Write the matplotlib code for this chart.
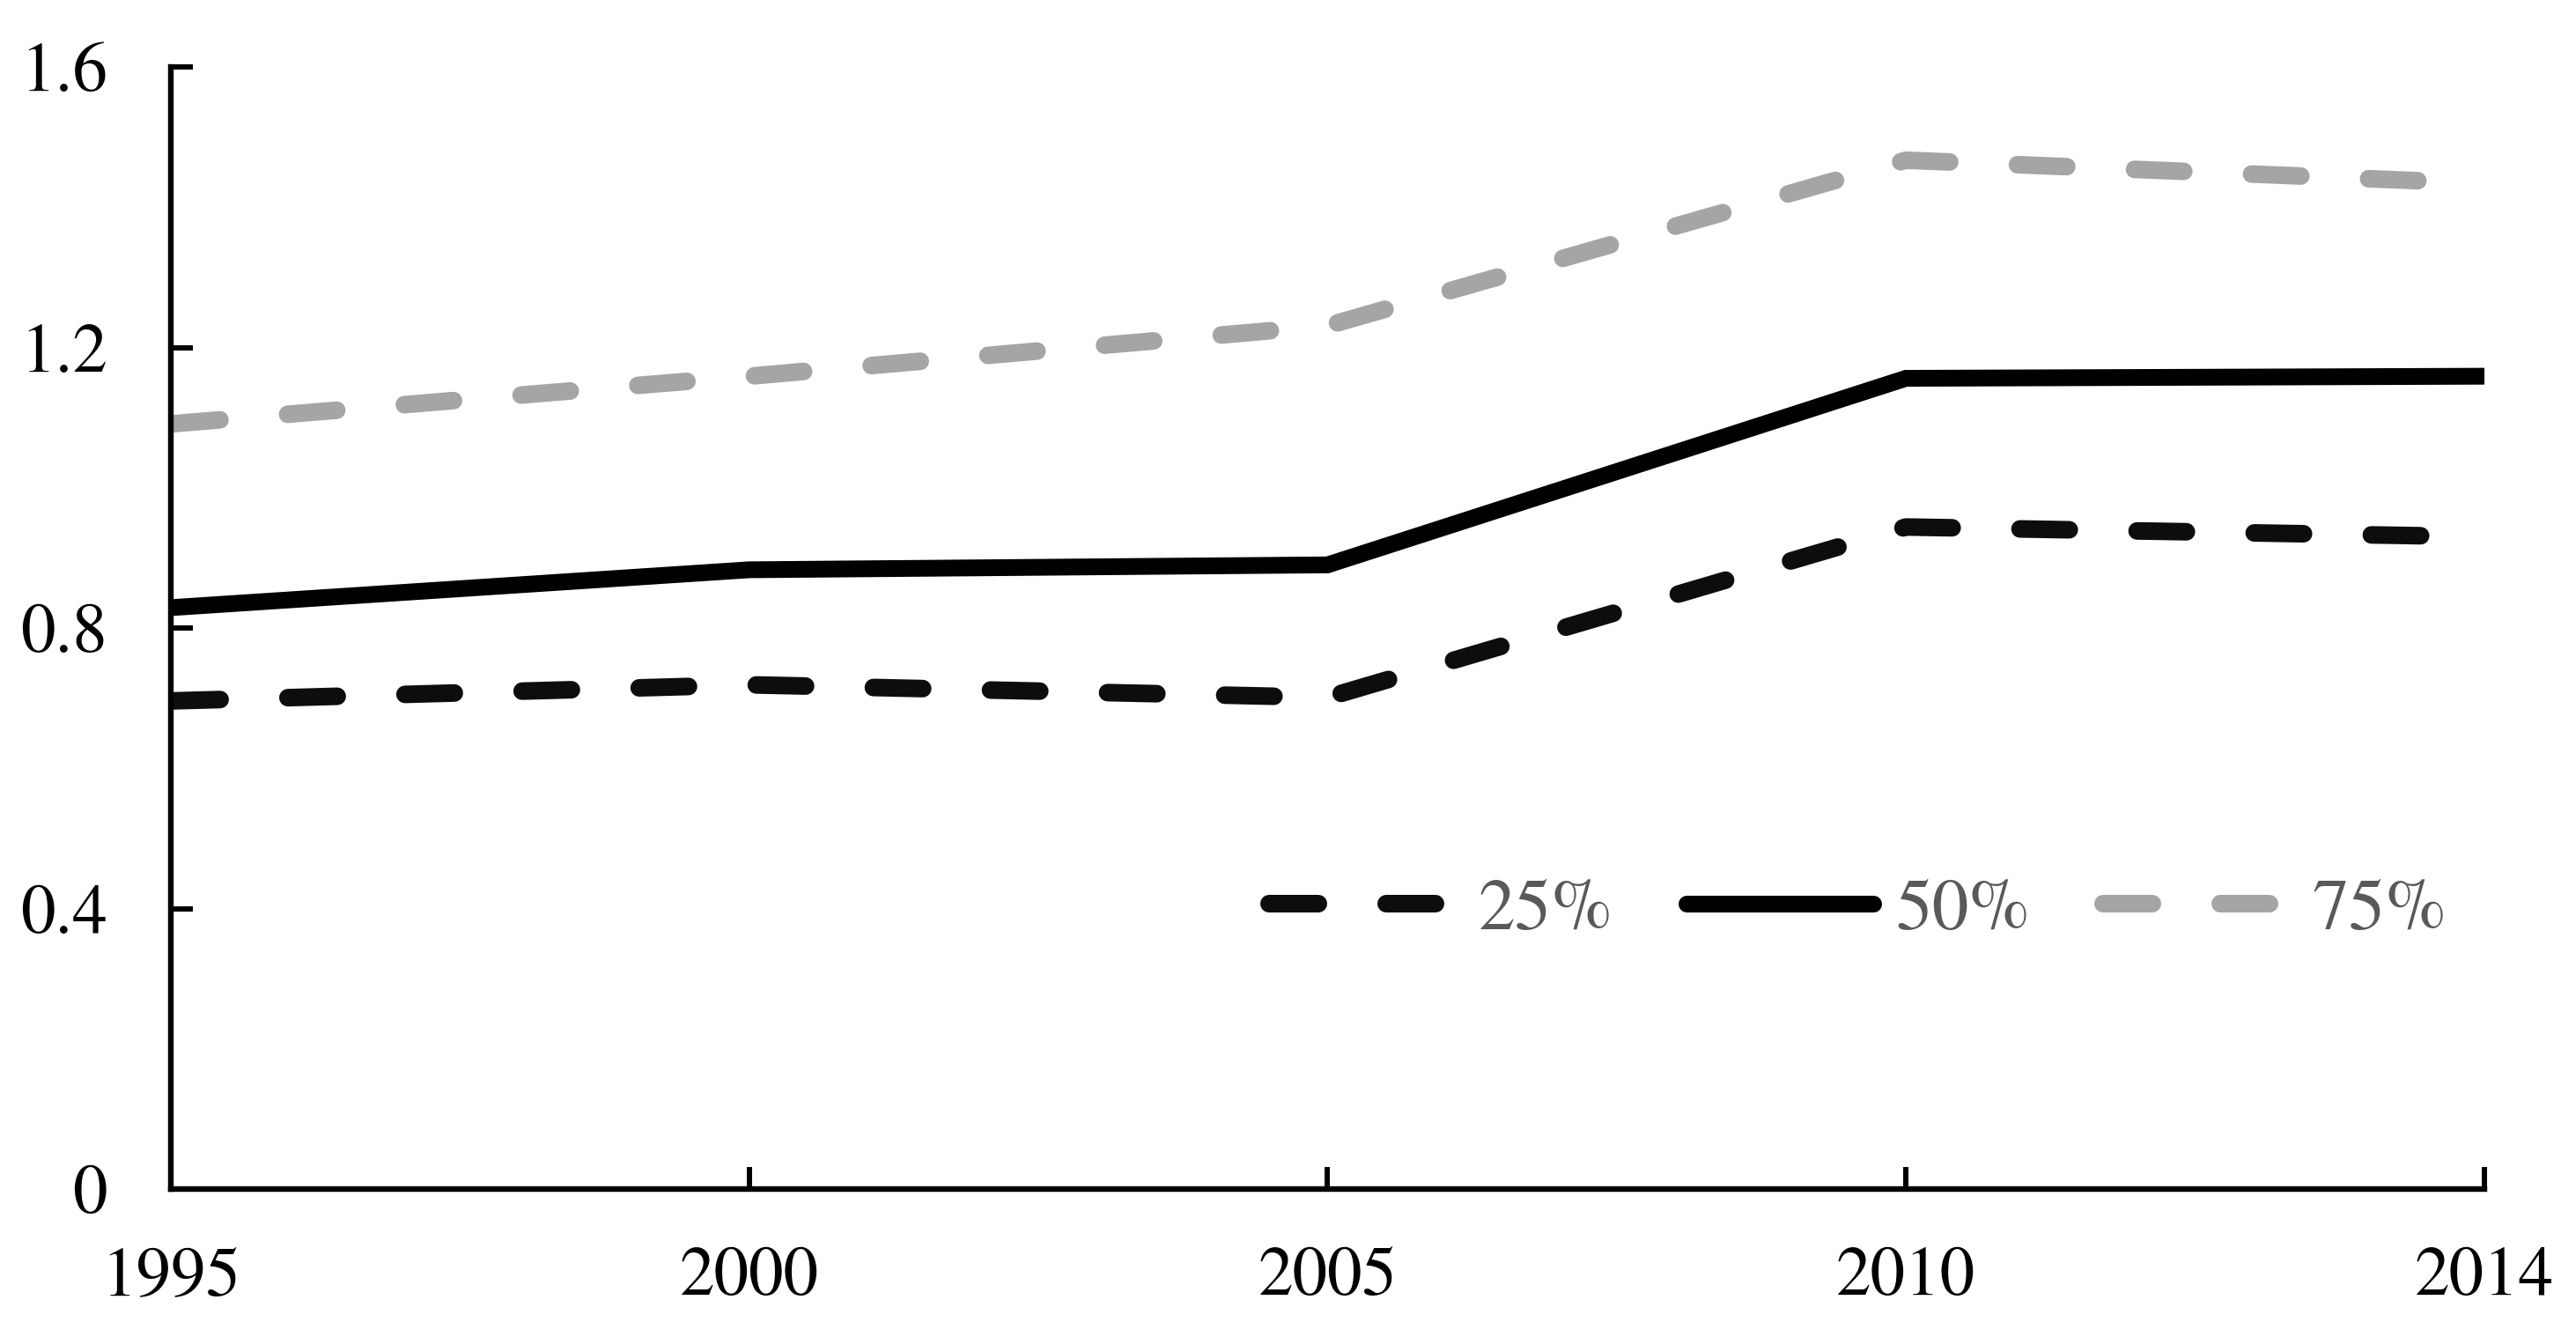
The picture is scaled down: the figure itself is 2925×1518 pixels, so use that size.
import matplotlib
matplotlib.use("Agg")
import matplotlib.pyplot as plt

years = ["1995", "2000", "2005", "2010", "2014"]
p25 = [0.696, 0.719, 0.701, 0.944, 0.930]
p50 = [0.829, 0.883, 0.890, 1.156, 1.159]
p75 = [1.091, 1.159, 1.231, 1.467, 1.434]
series_labels = ["25%", "50%", "75%"]
yticks = [0, 0.4, 0.8, 1.2, 1.6]
ytick_labels = ["0", "0.4", "0.8", "1.2", "1.6"]

plt.rcParams['font.family'] = ['TeX Gyre Termes', 'STIXGeneral', 'Liberation Serif', 'DejaVu Serif']

fig = plt.figure(figsize=(29.25, 15.18), dpi=100)
ax = fig.add_axes([0.06632, 0.11067, 0.89808, 0.83926])

x = list(range(len(years)))
dash = (2.8, 3.85)
ax.plot(x, p25, color="#0d0d0d", lw=14.4, linestyle=(0, dash),
        dash_capstyle='round', label=series_labels[0])
ax.plot(x, p50, color="#000000", lw=13.7, linestyle='-',
        solid_joinstyle='miter', solid_capstyle='round', label=series_labels[1])
ax.plot(x, p75, color="#a5a5a5", lw=14.4, linestyle=(0, dash),
        dash_capstyle='round', label=series_labels[2])

ax.set_xlim(0, len(years) - 1)
ax.set_ylim(0, 1.6)
ax.set_xticks(x)
ax.set_xticklabels(years)
ax.set_yticks(yticks)
ax.set_yticklabels(ytick_labels)

for s in ['top', 'right']:
    ax.spines[s].set_visible(False)
for s in ['left', 'bottom']:
    ax.spines[s].set_linewidth(4.6)
    ax.spines[s].set_color('black')

ax.tick_params(axis='both', direction='in', length=18, width=4.3,
               labelsize=57, colors='black')
ax.tick_params(axis='y', pad=52)
ax.tick_params(axis='x', pad=47)

leg = ax.legend(loc='center', bbox_to_anchor=(0.7213, 0.3182),
                bbox_transform=fig.transFigure, ncol=3, frameon=False,
                fontsize=60, handlelength=2.55, handletextpad=0.3,
                columnspacing=1.0, borderpad=0)
for t in leg.get_texts():
    t.set_color("#595959")

fig.savefig("out.png", dpi=100)
